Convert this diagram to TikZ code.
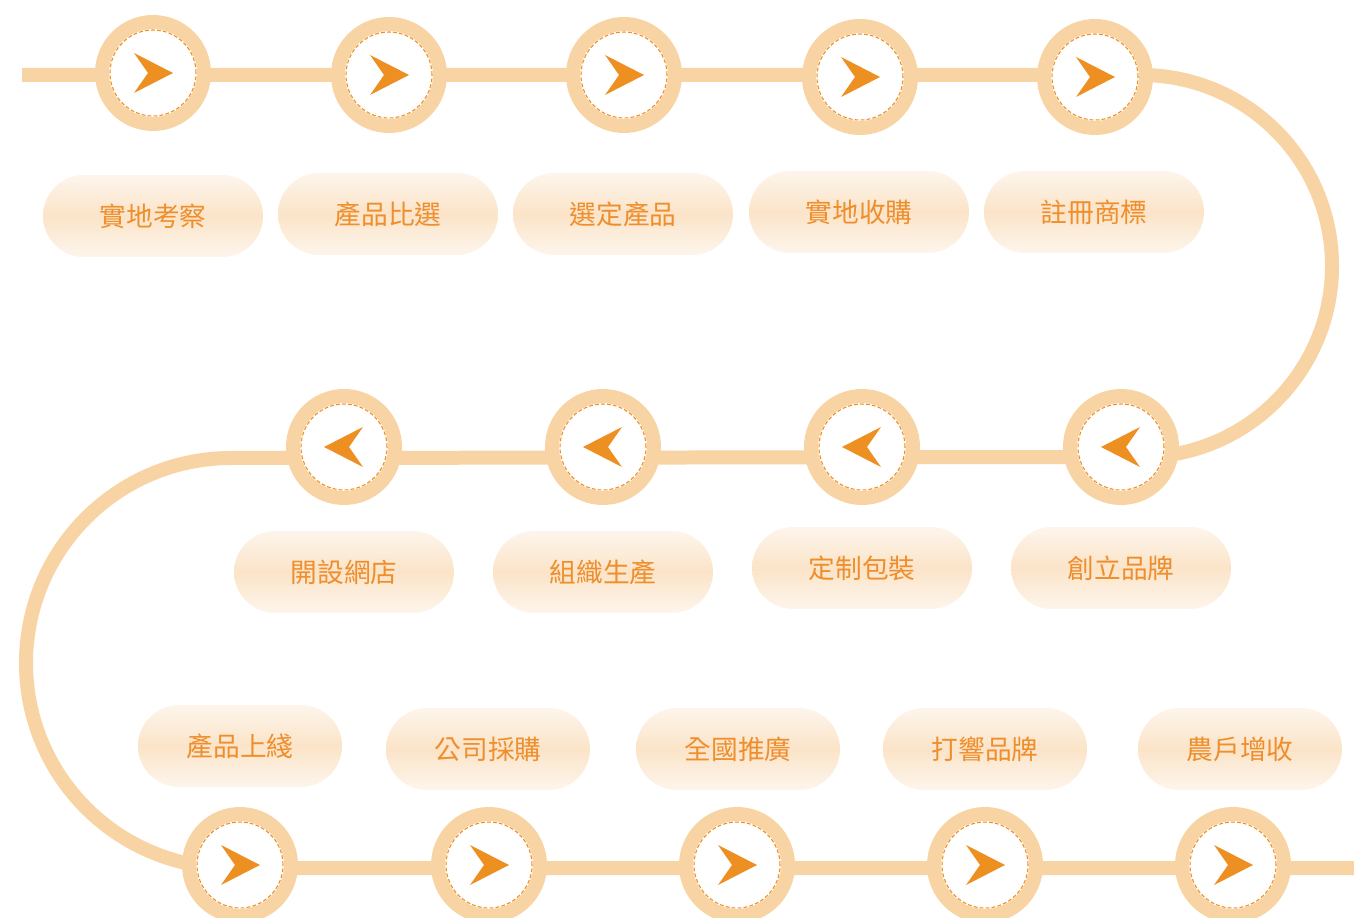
\documentclass[tikz,border=0pt]{standalone}
\usepackage{fontspec}
\newfontfamily\cjk{Noto Sans CJK TC}
\usetikzlibrary{shapes.misc,backgrounds}
\definecolor{ringc}{HTML}{F8D3A3}
\definecolor{arrowc}{HTML}{EE8F22}
\definecolor{textc}{HTML}{EF8E2C}
\definecolor{pilltop}{HTML}{FDF5EC}
\definecolor{pillmid}{HTML}{FBE4C8}
\tikzset{
  track/.style={draw=ringc, line width=0.28cm},
  stop/.style={circle, draw=ringc, line width=0.28cm, fill=white, inner sep=0pt, minimum size=2.04cm},
  dashring/.style={draw=arrowc, line width=0.6pt, dash pattern=on 2.2pt off 1.2pt},
  pill/.style={rounded rectangle, minimum width=4.4cm, minimum height=1.64cm, inner sep=0pt,
    top color=pilltop, bottom color=pilltop, middle color=pillmid,
    text=textc, font=\cjk\fontsize{15.2}{18}\selectfont},
  pill3/.style={pill, minimum width=4.08cm},
  chev/.pic={\fill[arrowc] (20,0) -- (-19,-20) -- (-5,0) -- (-19,20) -- cycle;},
}
\begin{document}
\begin{tikzpicture}[x=0.02cm, y=-0.02cm]
  \useasboundingbox (0,0) rectangle (1354,918);

  % stops, top row (left to right)
  \foreach \n/\x/\y in {1/153/73, 2/389/75, 3/624/75, 4/860/77, 5/1095/77}
    \node[stop] (a\n) at (\x,\y) {};
  % stops, middle row (right to left)
  \foreach \n/\x in {1/1121, 2/862, 3/603, 4/344}
    \node[stop] (b\n) at (\x,447) {};
  % stops, bottom row
  \foreach \n/\x in {1/240, 2/489, 3/737, 4/985, 5/1233}
    \node[stop] (c\n) at (\x,865) {};

  % the winding track
  \coordinate (start) at (22,75);
  \coordinate (bendR) at (1141,75);
  \coordinate (bendL) at (231,458);
  \coordinate (end) at (1354,868);
  \begin{pgfonlayer}{background}
    \draw[track] (start) -- (bendR)
      arc[start angle=-90, end angle=90, radius=191] -- (bendL)
      arc[start angle=270, end angle=90, radius=205] -- (end);
  \end{pgfonlayer}

  % dashed inner rings and chevrons
  \foreach \s in {a1,a2,a3,a4,a5,c1,c2,c3,c4,c5} {
    \draw[dashring] (\s.center) circle[radius=0.86cm];
    \pic at (\s.center) {chev};
  }
  \foreach \s in {b1,b2,b3,b4} {
    \draw[dashring] (\s.center) circle[radius=0.86cm];
    \pic[xscale=-1] at (\s.center) {chev};
  }

  % labels
  \node[pill] (la1) at (153,216) {實地考察};
  \node[pill] (la2) at (388,214) {產品比選};
  \node[pill] (la3) at (623,214) {選定產品};
  \node[pill] (la4) at (859,212) {實地收購};
  \node[pill] (la5) at (1094,212) {註冊商標};

  \node[pill] (lb1) at (1121,568) {創立品牌};
  \node[pill] (lb2) at (862,568) {定制包裝};
  \node[pill] (lb3) at (603,572) {組織生產};
  \node[pill] (lb4) at (344,572) {開設網店};

  \node[pill3] (lc1) at (240,746) {產品上綫};
  \node[pill3] (lc2) at (488,749) {公司採購};
  \node[pill3] (lc3) at (738,749) {全國推廣};
  \node[pill3] (lc4) at (985,749) {打響品牌};
  \node[pill3] (lc5) at (1240,749) {農戶增收};
\end{tikzpicture}
\end{document}
